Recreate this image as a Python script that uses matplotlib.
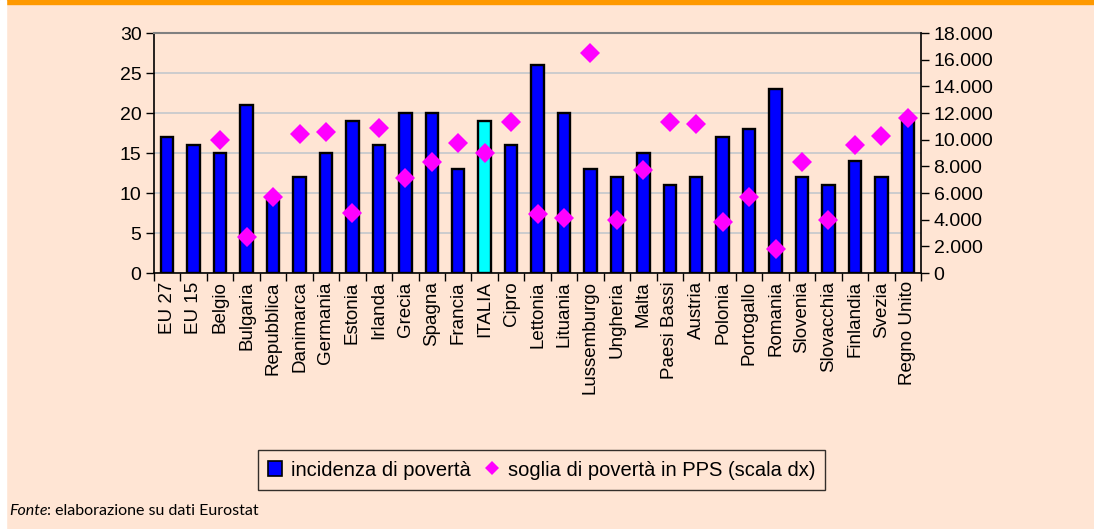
import numpy as np
import matplotlib.pyplot as plt
from matplotlib.patches import Rectangle
from matplotlib.lines import Line2D
from matplotlib.ticker import FuncFormatter

paesi = ['EU 27', 'EU 15', 'Belgio', 'Bulgaria', 'Repubblica', 'Danimarca',
         'Germania', 'Estonia', 'Irlanda', 'Grecia', 'Spagna', 'Francia',
         'ITALIA', 'Cipro', 'Lettonia', 'Lituania', 'Lussemburgo', 'Ungheria',
         'Malta', 'Paesi Bassi', 'Austria', 'Polonia', 'Portogallo', 'Romania',
         'Slovenia', 'Slovacchia', 'Finlandia', 'Svezia', 'Regno Unito']

# incidenza di poverta' (%)
incidenza = [17, 16, 15, 21, 9, 12, 15, 19, 16, 20, 20, 13,
             19, 16, 26, 20, 13, 12, 15, 11, 12, 17, 18, 23,
             12, 11, 14, 12, 19]

# soglia di poverta' in PPS (scala dx); nessun valore per EU 27 / EU 15
soglia = [np.nan, np.nan, 10000, 2700, 5700, 10450, 10600, 4500, 10900,
          7150, 8300, 9750, 9000, 11350, 4400, 4100, 16500, 3950, 7700,
          11350, 11200, 3850, 5700, 1800, 8300, 3950, 9600, 10300, 11650]

BG = '#FFE5D4'
FONT = 'Liberation Sans'

fig = plt.figure(figsize=(10.94, 5.29), dpi=100, facecolor=BG)
fig.patches.append(Rectangle((0, 0.992), 1, 0.008, transform=fig.transFigure,
                             color='#FF9900', zorder=0))
fig.patches.append(Rectangle((0, 0), 0.0055, 1, transform=fig.transFigure,
                             color='white', zorder=1))

ax = fig.add_axes([0.1408, 0.4839, 0.7011, 0.4537])
ax.set_facecolor(BG)
x = np.arange(len(paesi))
colori = ['#00FFFF' if p == 'ITALIA' else '#0000FF' for p in paesi]
ax.bar(x, incidenza, width=0.47, color=colori, edgecolor='black',
       linewidth=1.7, zorder=3)

ax.set_ylim(0, 30)
ax.set_yticks(np.arange(0, 31, 5))
ax.set_xlim(-0.5, len(paesi) - 0.5)
ax.grid(axis='y', color='#C4C8CC', linewidth=1.2, zorder=0)
ax.tick_params(axis='y', direction='out', length=6, width=1, labelsize=14,
               pad=3)
ax.tick_params(axis='x', which='major', direction='out', length=6, width=1,
               labelbottom=False)
ax.tick_params(axis='x', which='minor', length=0, labelsize=13.5, pad=6)
ax.set_xticks(np.arange(-0.5, len(paesi)), minor=False)
ax.set_xticks(x, minor=True)
ax.set_xticklabels(paesi, minor=True, rotation=90)
for s in ['left', 'bottom']:
    ax.spines[s].set_color('black')
    ax.spines[s].set_linewidth(1.2)
ax.spines['top'].set_color('#808080')
ax.spines['top'].set_linewidth(1.5)
ax.spines['right'].set_visible(False)
for lab in ax.get_xticklabels(minor=True) + ax.get_yticklabels():
    lab.set_family(FONT)

ax2 = ax.twinx()
ax2.plot(x, soglia, linestyle='none', marker='D', markersize=10,
         color='#FF00FF', markeredgewidth=0, zorder=4)
ax2.set_ylim(0, 18000)
ax2.set_yticks(np.arange(0, 18001, 2000))
ax2.yaxis.set_major_formatter(
    FuncFormatter(lambda v, _: f'{int(v):,}'.replace(',', '.')))
ax2.tick_params(axis='y', direction='out', length=6, width=1, labelsize=14,
                pad=3)
for s in ['left', 'top', 'bottom']:
    ax2.spines[s].set_visible(False)
ax2.spines['right'].set_color('black')
ax2.spines['right'].set_linewidth(1.2)
for lab in ax2.get_yticklabels():
    lab.set_family(FONT)

handles = [
    Rectangle((0, 0), 1, 1, facecolor='#0000FF', edgecolor='black', lw=1.2),
    Line2D([], [], linestyle='none', marker='D', markersize=7.5,
           color='#FF00FF', markeredgewidth=0),
]
leg = fig.legend(handles, ['incidenza di povertà',
                           'soglia di povertà in PPS (scala dx)'],
                 loc='center', bbox_to_anchor=(0.495, 0.1115), ncol=2,
                 prop={'family': FONT, 'size': 14.5},
                 frameon=True, fancybox=False, handlelength=0.7,
                 handleheight=0.7, handletextpad=0.45, columnspacing=0.7,
                 borderpad=0.5, borderaxespad=0)
leg.get_frame().set_edgecolor('black')
leg.get_frame().set_linewidth(1)
leg.get_frame().set_facecolor(BG)

fonte = fig.text(0.008, 0.034, 'Fonte', style='italic', family='Lato',
                 size=11.5, va='center')
ax.annotate(': elaborazione su dati Eurostat', xy=(1, 0.5), xycoords=fonte,
            va='center', family='Lato', size=11.5, annotation_clip=False)

fig.savefig('out.png', dpi=100, facecolor=BG)
